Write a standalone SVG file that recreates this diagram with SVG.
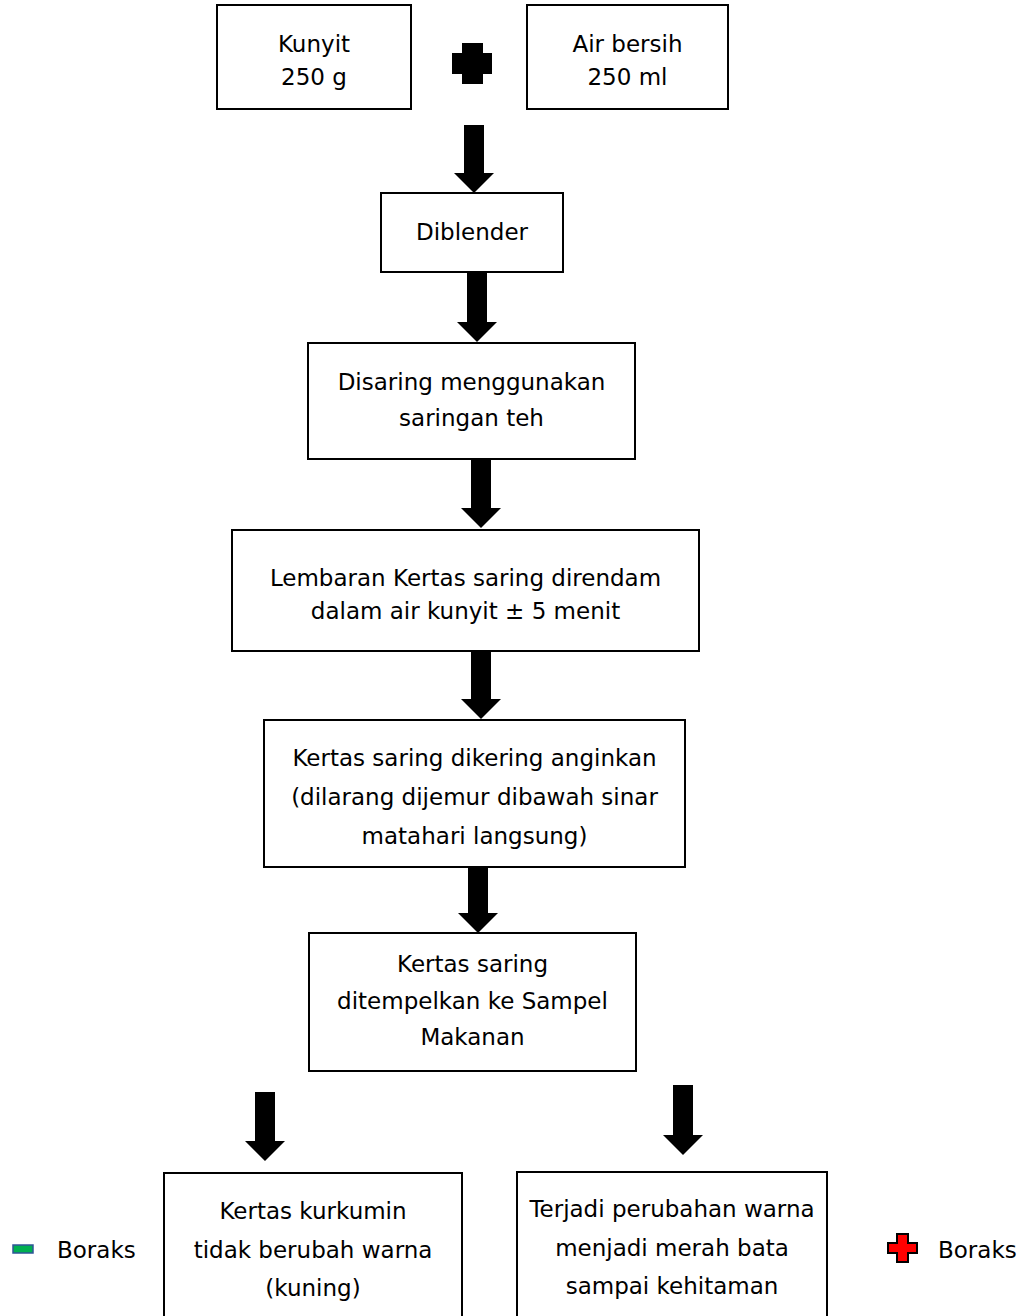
<svg xmlns="http://www.w3.org/2000/svg" width="1023" height="1316" viewBox="0 0 1023 1316">
<style>
.box{fill:#fff;stroke:#000;stroke-width:2}
.t{font-family:"DejaVu Sans","Liberation Sans",sans-serif;font-size:23px;fill:#000;text-anchor:middle}
.lg{font-family:"DejaVu Sans","Liberation Sans",sans-serif;font-size:23px;fill:#000}
.arr{fill:#000}
</style>
<rect width="1023" height="1316" fill="#fff"/>
<g id="connectors">
<polygon class="arr" points="464,125 484,125 484,173 494,173 474,193 454,173 464,173"/>
<polygon class="arr" points="467,272 487,272 487,322 497,322 477,342 457,322 467,322"/>
<polygon class="arr" points="471,460 491,460 491,508 501,508 481,528 461,508 471,508"/>
<polygon class="arr" points="471,652 491,652 491,699 501,699 481,719 461,699 471,699"/>
<polygon class="arr" points="468,868 488,868 488,913 498,913 478,933 458,913 468,913"/>
<polygon class="arr" points="255,1092 275,1092 275,1141 285,1141 265,1161 245,1141 255,1141"/>
<polygon class="arr" points="673,1085 693,1085 693,1135 703,1135 683,1155 663,1135 673,1135"/>
</g>
<g id="plus"><polygon class="arr" points="462,43 483,43 483,53 492,53 492,74 483,74 483,84 462,84 462,74 452,74 452,53 462,53"/></g>
<g id="n-kunyit"><rect class="box" x="217" y="5" width="194" height="104"/>
<text class="t" x="314" y="52">Kunyit</text><text class="t" x="314" y="85">250 g</text></g>
<g id="n-air"><rect class="box" x="527" y="5" width="201" height="104"/>
<text class="t" x="627.5" y="52">Air bersih</text><text class="t" x="627.5" y="85">250 ml</text></g>
<g id="n-diblender"><rect class="box" x="381" y="193" width="182" height="79"/>
<text class="t" x="472" y="240">Diblender</text></g>
<g id="n-disaring"><rect class="box" x="308" y="343" width="327" height="116"/>
<text class="t" x="471.5" y="390">Disaring menggunakan</text><text class="t" x="471.5" y="426">saringan teh</text></g>
<g id="n-lembaran"><rect class="box" x="232" y="530" width="467" height="121"/>
<text class="t" x="465.5" y="586">Lembaran Kertas saring direndam</text><text class="t" x="465.5" y="619">dalam air kunyit ± 5 menit</text></g>
<g id="n-kering"><rect class="box" x="264" y="720" width="421" height="147"/>
<text class="t" x="474.5" y="766">Kertas saring dikering anginkan</text><text class="t" x="474.5" y="805">(dilarang dijemur dibawah sinar</text><text class="t" x="474.5" y="844">matahari langsung)</text></g>
<g id="n-tempel"><rect class="box" x="309" y="933" width="327" height="138"/>
<text class="t" x="472.5" y="972">Kertas saring</text><text class="t" x="472.5" y="1009">ditempelkan ke Sampel</text><text class="t" x="472.5" y="1045">Makanan</text></g>
<g id="n-negatif"><rect class="box" x="164" y="1173" width="298" height="160"/>
<text class="t" x="313" y="1219">Kertas kurkumin</text><text class="t" x="313" y="1258">tidak berubah warna</text><text class="t" x="313" y="1296">(kuning)</text></g>
<g id="n-positif"><rect class="box" x="517" y="1172" width="310" height="160"/>
<text class="t" x="672" y="1217">Terjadi perubahan warna</text><text class="t" x="672" y="1256">menjadi merah bata</text><text class="t" x="672" y="1294">sampai kehitaman</text></g>
<g id="legend-neg"><rect x="13" y="1245" width="20" height="8" fill="#00b050" stroke="#2f5597" stroke-width="1.5"/>
<text class="lg" x="57" y="1258">Boraks</text></g>
<g id="legend-pos"><polygon points="897,1234 908,1234 908,1243 917,1243 917,1253 908,1253 908,1262 897,1262 897,1253 888,1253 888,1243 897,1243" fill="#ff0000" stroke="#000" stroke-width="2"/>
<text class="lg" x="938" y="1258">Boraks</text></g>
</svg>
